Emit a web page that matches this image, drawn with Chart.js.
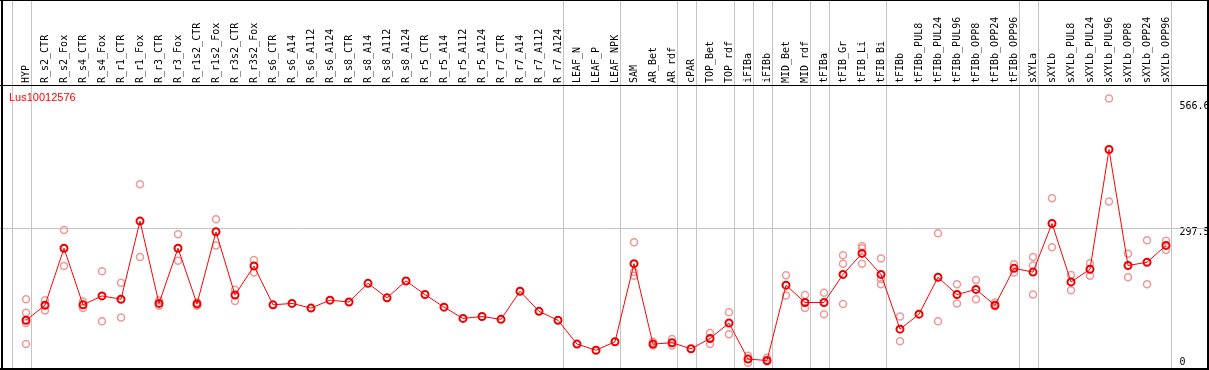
<!DOCTYPE html>
<html>
<head>
<meta charset="utf-8">
<script src="https://cdn.jsdelivr.net/npm/chart.js@4.4.0/dist/chart.umd.min.js"></script>
<style>
html,body{margin:0;padding:0;background:#fff;}
#wrap{width:1209px;height:370px;position:relative;}
</style>
</head>
<body>
<div id="wrap"><canvas id="c" width="1209" height="370"></canvas></div>
<script>
const chartTitle = "Lus10012576";
const categories = ["HYP","R_s2_CTR","R_s2_Fox","R_s4_CTR","R_s4_Fox","R_r1_CTR","R_r1_Fox","R_r3_CTR","R_r3_Fox","R_r1s2_CTR","R_r1s2_Fox","R_r3s2_CTR","R_r3s2_Fox","R_s6_CTR","R_s6_A14","R_s6_A112","R_s6_A124","R_s8_CTR","R_s8_A14","R_s8_A112","R_s8_A124","R_r5_CTR","R_r5_A14","R_r5_A112","R_r5_A124","R_r7_CTR","R_r7_A14","R_r7_A112","R_r7_A124","LEAF_N","LEAF_P","LEAF_NPK","SAM","AR_Bet","AR_rdf","cPAR","TOP_Bet","TOP_rdf","iFIBa","iFIBb","MID_Bet","MID_rdf","tFIBa","tFIB_Gr","tFIB_Li","tFIB_Bi","tFIBb","tFIBb_PUL8","tFIBb_PUL24","tFIBb_PUL96","tFIBb_OPP8","tFIBb_OPP24","tFIBb_OPP96","sXYLa","sXYLb","sXYLb_PUL8","sXYLb_PUL24","sXYLb_PUL96","sXYLb_OPP8","sXYLb_OPP24","sXYLb_OPP96"];
const meanValues = [101,133,255,134,153,146,313,137,255,136,290,155,217,134,137,127,144,140,180,149,185,156,129,105,109,103,163,120,101,50,37,55,222,50,53,40,62,95,18,15,176,139,139,199,244,199,82,114,193,156,167,133,212,204,308,183,210,466,218,225,261];
const rep1 = [146,144,294,141,206,181,392,143,285,139,317,166,230,null,null,null,null,null,null,null,null,null,null,null,null,null,null,null,null,null,null,null,268,55,61,null,74,118,25,21,197,155,160,240,260,233,109,null,287,178,187,139,221,236,362,198,223,575,243,272,271];
const rep2 = [117,122,217,127,99,107,236,132,228,132,261,142,203,null,null,null,null,null,null,null,null,null,null,null,null,null,null,null,null,null,null,null,204,47,47,null,50,71,10,13,154,127,114,222,255,189,56,null,99,137,146,131,203,218,257,165,196,355,193,178,251];
const rep3 = [95,null,null,null,null,null,null,null,null,null,null,null,null,null,null,null,null,null,null,null,null,null,null,null,null,null,null,null,null,null,null,null,196,null,null,null,null,null,null,null,null,null,null,136,222,178,null,null,null,null,null,null,null,156,null,null,null,null,null,null,null];
const rep4 = [50];
const yTickValues = [0, 297.5, 566.6];
const yMax = 604;
const groupEnds = [-1,0,28,31,34,35,37,38,39,41,42,45,52,53,60];
const gridValue = 297.5;

const repPoints = [];
[rep1, rep2, rep3, rep4].forEach(arr => {
  arr.forEach((v, i) => { if (v !== null && v !== undefined) repPoints.push({x: categories[i], y: v}); });
});

function noPad(s) { s.paddingTop = 0; s.paddingBottom = 0; s.paddingLeft = 0; s.paddingRight = 0; }

const decorPlugin = {
  id: 'decor',
  beforeDatasetsDraw(chart) {
    const ctx = chart.ctx, xs = chart.scales.x, ys = chart.scales.y;
    const step = xs.getPixelForValue(1) - xs.getPixelForValue(0);
    ctx.save();
    ctx.strokeStyle = '#c4c4c4';
    ctx.lineWidth = 1;
    groupEnds.forEach(i => {
      const px = Math.round(xs.getPixelForValue(0) + step * (i + 0.25)) + 0.5;
      ctx.beginPath(); ctx.moveTo(px, 0); ctx.lineTo(px, chart.height); ctx.stroke();
    });
    const gy = Math.round(ys.getPixelForValue(gridValue)) + 0.5;
    ctx.beginPath(); ctx.moveTo(0, gy); ctx.lineTo(chart.width, gy); ctx.stroke();
    ctx.fillStyle = '#ff0000';
    ctx.font = "11px 'Liberation Sans', Arial, sans-serif";
    ctx.textBaseline = 'alphabetic';
    ctx.textAlign = 'left';
    ctx.fillText(chartTitle, 9, 101);
    ctx.restore();
  },
  afterDraw(chart) {
    const ctx = chart.ctx;
    ctx.save();
    ctx.fillStyle = '#000';
    ctx.fillRect(0, 0, chart.width, 1);
    ctx.fillRect(1, 0, 2, chart.height);
    ctx.fillRect(0, 368, chart.width, 2);
    ctx.fillRect(1207, 0, 2, chart.height);
    ctx.fillRect(0, Math.round(chart.chartArea.top), chart.width, 1);
    ctx.restore();
  }
};

new Chart(document.getElementById('c'), {
  type: 'line',
  data: {
    labels: categories,
    datasets: [
      {
        label: 'mean',
        data: meanValues,
        borderColor: '#ff0000',
        borderWidth: 1,
        pointRadius: 3.5,
        pointBorderWidth: 2,
        pointBorderColor: '#ee0000',
        pointBackgroundColor: 'rgba(0,0,0,0)',
        tension: 0,
        yAxisID: 'y'
      },
      {
        label: 'replicates',
        data: repPoints,
        showLine: false,
        pointRadius: 3.5,
        pointBorderWidth: 1.5,
        pointBorderColor: '#f09898',
        pointBackgroundColor: 'rgba(0,0,0,0)',
        yAxisID: 'y'
      }
    ]
  },
  options: {
    responsive: false,
    animation: false,
    devicePixelRatio: 1,
    layout: { autoPadding: false, padding: { left: 16.5, right: 0, top: 0, bottom: 2.5 } },
    plugins: { legend: { display: false }, tooltip: { enabled: false }, title: { display: false } },
    scales: {
      x: {
        type: 'category',
        position: 'top',
        offset: true,
        grid: { display: false, drawTicks: false },
        border: { display: false },
        ticks: {
          autoSkip: false,
          minRotation: 90,
          maxRotation: 90,
          padding: 2,
          labelOffset: 12,
          color: '#000',
          font: { family: "'DejaVu Sans Mono', monospace", size: 10 }
        },
        afterFit(s) { s.height = 85; noPad(s); }
      },
      y: {
        type: 'linear',
        position: 'right',
        min: 0,
        max: yMax,
        grid: { display: false, drawTicks: false },
        border: { display: false },
        afterBuildTicks(s) { s.ticks = yTickValues.map(v => ({ value: v })); },
        ticks: {
          padding: 4,
          labelOffset: 4,
          color: '#000',
          font: (c) => ({ family: "'DejaVu Sans Mono', monospace", size: 10,
                          lineHeight: (c.tick && c.tick.value === 0) ? '19px' : 1.2 }),
          callback: v => (v === 0 ? [String(v), ''] : String(v))
        },
        afterFit(s) { s.width = 33.5; noPad(s); }
      }
    }
  },
  plugins: [decorPlugin]
});
</script>
</body>
</html>
